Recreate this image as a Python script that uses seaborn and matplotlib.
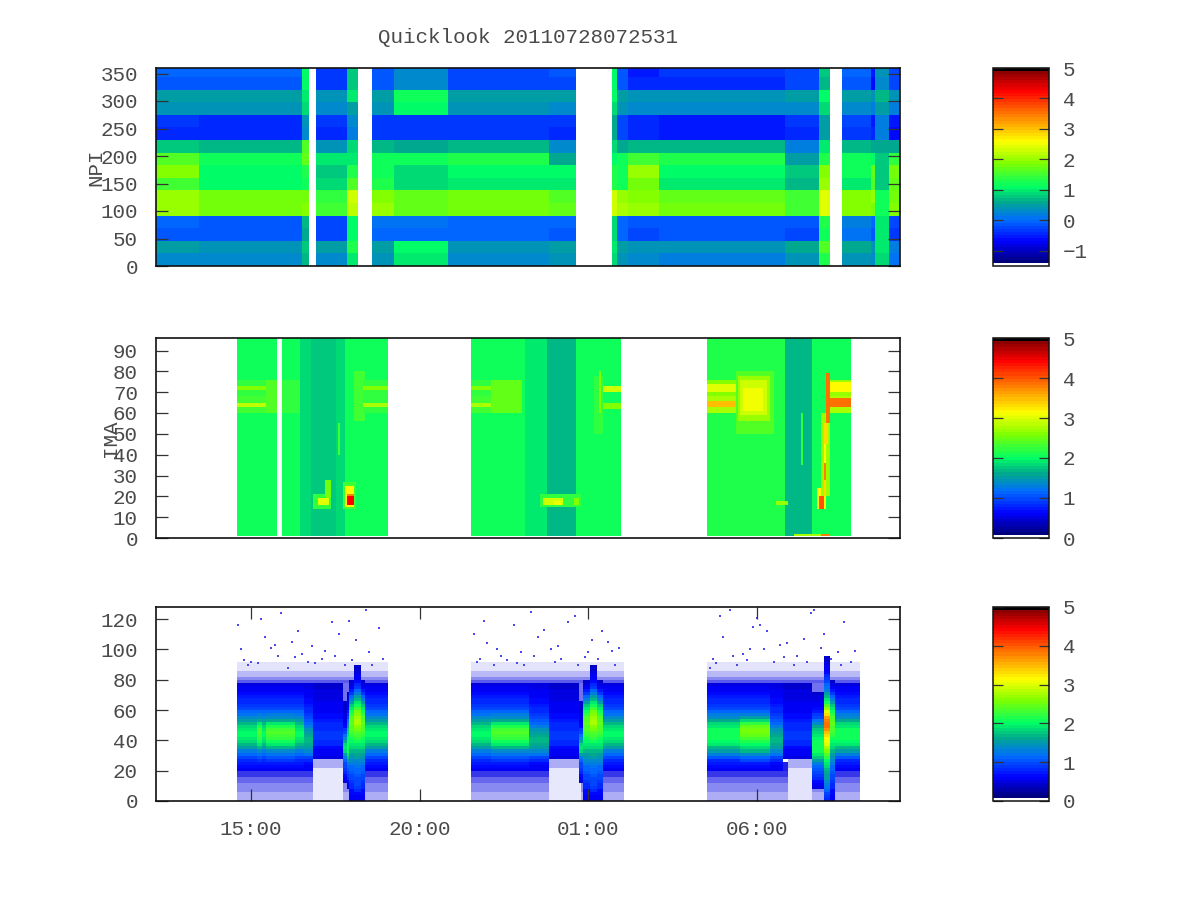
import matplotlib
matplotlib.use("Agg")
import matplotlib.pyplot as plt
import numpy as np
import seaborn as sns
from matplotlib.colors import LinearSegmentedColormap

N = np.nan

# -----------------------------
# Time grid (hours since 00:00 on the first day)
# -----------------------------
T_START = 12.18
T_END = 34.26
COLS_PER_HOUR = 15
time_ticks = [15, 20, 25, 30]
time_labels = ["15:00", "20:00", "01:00", "06:00"]

# -----------------------------
# NPI: energy of 16 sector rows over time segments
# -----------------------------
npi_edges = [12.18, 13.43, 16.51, 16.72, 16.93, 17.85, 18.18, 18.56, 19.24, 20.82, 23.87,
             24.67, 25.74, 25.85, 26.20, 27.14, 30.85, 31.82, 32.15, 32.54, 33.37, 33.52, 33.90, 34.26]
npi_row_height = 22.9
npi_rows = [
    [.3, .25, .7, N, .3, 1.0, N, .4, 1.0, .25, .4, N, .35, .25, .2, .4, 1.3, N, .4, .3, .9, .1],
    [.45, .4, .8, N, .45, 1.3, N, .5, 1.05, .4, .5, N, .45, .4, .35, .6, 1.6, N, .6, .4, 1.0, .15],
    [-.1, -.15, .6, N, -.2, 1.1, N, 0, 0, -.05, -.1, N, -.05, -.2, -.15, -.2, 1.2, N, .1, -.1, .95, -.3],
    [-.05, -.1, .7, N, -.25, 1.1, N, .05, .1, 0, -.05, N, 0, -.15, -.1, -.1, 1.3, N, .15, -.05, 1.0, -.25],
    [2.0, 1.8, 1.9, N, 1.45, 2.2, N, 2.0, 1.7, 1.8, 1.65, N, 2.1, 2.0, 1.75, 1.5, 2.4, N, 1.9, 1.8, 1.2, 1.9],
    [2.0, 1.75, 1.85, N, 1.4, 2.3, N, 1.9, 1.65, 1.75, 1.6, N, 2.05, 1.95, 1.7, 1.45, 2.4, N, 1.95, 2.0, 1.15, 1.85],
    [1.5, 1.1, 1.2, N, .85, 1.6, N, 1.3, .9, 1.0, .95, N, 1.2, 1.8, .95, .7, 2.0, N, 1.0, 1.6, .8, 1.7],
    [1.9, 1.1, 1.25, N, .8, 1.3, N, 1.2, .85, 1.05, 1.05, N, 1.2, 2.0, 1.05, .75, 1.9, N, 1.2, 1.7, .8, 1.8],
    [1.6, 1.2, 1.7, N, 1.0, 1.0, N, 1.2, 1.2, 1.25, .6, N, 1.2, 1.45, 1.3, .5, 1.3, N, 1.2, 1.1, .8, 1.4],
    [.8, .65, 1.6, N, .35, .9, N, .7, .55, .7, .3, N, .6, .7, .65, .2, 1.0, N, .7, .6, .6, .6],
    [-.45, -.45, .3, N, -.4, .2, N, -.35, -.3, -.35, -.4, N, -.25, -.45, -.55, -.4, .5, N, -.3, -.45, .2, -.6],
    [-.35, -.4, .35, N, -.3, .25, N, -.3, -.3, -.3, -.3, N, -.2, -.4, -.5, -.35, .5, N, -.2, -.55, .2, -.5],
    [.4, .4, .9, N, .3, .5, N, .35, 1.1, .35, .3, N, .35, .25, .25, .3, .9, N, .3, .2, .5, .2],
    [.5, .5, 1.0, N, .4, 1.0, N, .5, 1.15, .5, .45, N, .5, .35, .4, .45, 1.1, N, .5, .35, .7, .35],
    [-.1, -.1, 1.1, N, -.35, .8, N, -.1, .25, -.25, -.2, N, -.1, -.45, -.4, -.25, .7, N, -.1, -.6, .3, -.2],
    [-.05, -.05, 1.1, N, -.3, .8, N, -.1, .25, -.2, -.15, N, -.1, -.5, -.35, -.2, .8, N, -.05, -.55, .35, -.25],
]
# thin bright sliver right after the long data gap
npi_onset = [.9, 1.0, .9, .9, 2.3, 2.3, 1.3, 1.3, 1.1, .9, .6, .6, .9, 1.1, 1.1, 1.1]
npi_ticks = [0, 50, 100, 150, 200, 250, 300, 350]

# -----------------------------
# IMA: background level per segment plus local features
# -----------------------------
ima_edges = [12.18, 14.55, 15.80, 15.89, 16.45, 16.80, 17.50, 17.79, 19.04, 21.53, 23.10, 23.81, 24.67, 25.95,
             28.53, 30.85, 31.68, 32.77, 34.26]
ima_levels = [N, 2.08, N, 2.05, 1.85, 1.72, 1.8, 2.05, N, 2.05, 1.95, 1.7, 2.1, N, 2.15, 1.65, 2.1, N]
ima_ticks = [0, 10, 20, 30, 40, 50, 60, 70, 80, 90]

ima_t0 = [14.55, 14.55, 14.55, 14.55, 15.45, 15.89, 18.05, 18.3, 18.3, 18.3, 18.3,
          16.85, 16.96, 17.2, 17.55, 17.7, 17.78, 17.82, 17.85,
          21.53, 21.53, 21.53, 21.53, 22.1, 23.55, 23.66, 23.95, 24.55, 25.15, 25.3, 25.45, 25.45,
          28.53, 28.53, 28.53, 28.53, 29.4, 29.45, 29.5, 29.6, 30.55, 31.3,
          31.8, 31.85, 31.93, 31.95, 31.97, 31.98, 32.0, 32.03, 32.07,
          32.17, 32.17, 32.17, 32.17, 31.08, 31.9]
ima_t1 = [15.6, 15.6, 15.6, 15.6, 15.75, 16.45, 18.35, 19.04, 19.04, 19.04, 19.04,
          17.35, 17.28, 17.4, 17.62, 18.1, 18.05, 18.05, 18.03,
          22.15, 22.15, 22.15, 22.15, 23.07, 24.75, 24.26, 24.2, 24.7, 25.45, 25.4, 25.95, 25.95,
          29.45, 29.45, 29.45, 29.45, 30.5, 30.35, 30.3, 30.2, 30.9, 31.38,
          32.05, 32.0, 32.2, 32.02, 32.03, 32.08, 32.12, 32.17, 32.17,
          32.77, 32.77, 32.77, 32.77, 32.2, 32.2]
ima_lo = [68, 60, 71, 63, 60, 60, 56, 68, 60, 71, 63,
          14, 16, 19, 40, 14, 15, 16, 16,
          68, 60, 71, 63, 60, 15, 16, 16, 16, 50, 60, 70, 62,
          68, 60, 70, 63, 50, 56, 59, 61, 16, 35,
          14, 14, 20, 20, 28, 36, 45, 55, 65,
          60, 63, 68, 70, 1, 1]
ima_hi = [76, 68, 73, 65, 76, 76, 80, 76, 68, 73, 65,
          21, 19, 28, 55, 27, 25, 21, 20,
          76, 68, 73, 65, 76, 21, 19, 18, 19, 78, 80, 73, 65,
          76, 68, 74, 66, 80, 78, 76, 72, 18, 60,
          24, 20, 60, 30, 36, 45, 55, 65, 79,
          68, 67, 76, 75, 2, 2]
ima_level = [2.25, 2.3, 2.65, 2.85, 2.4, 2.25, 2.3, 2.2, 2.25, 2.6, 2.75,
             2.2, 3.0, 2.5, 2.3, 2.3, 3.2, 3.8, 4.4,
             2.25, 2.3, 2.6, 2.75, 2.45, 2.2, 2.9, 3.1, 2.6, 2.25, 2.6, 2.9, 2.6,
             2.6, 2.8, 3.0, 3.5, 2.4, 2.7, 2.95, 3.1, 2.7, 2.25,
             3.2, 4.0, 2.7, 3.3, 3.8, 3.2, 3.3, 3.9, 3.9,
             2.8, 3.9, 2.7, 3.2, 2.8, 3.8]

# -----------------------------
# ELS: vertical spectra (one value per 2 channels) and when each applies
# -----------------------------
els_quiet = [N] * 10 + [.6, .65, .75, .85, 1.0, 1.15, 1.3, 1.5, 1.7, 1.85, 1.95, 2.0, 2.0, 1.95, 1.85, 1.7, 1.5,
                        1.35, 1.2, 1.1, 1.0, .9, .85, .8, .72, .66, .6, .56, .52]
els_warm = [N] * 10 + [.6, .65, .75, .9, 1.05, 1.2, 1.4, 1.7, 1.95, 2.1, 2.2, 2.3, 2.35, 2.3, 2.15, 1.9, 1.6,
                       1.4, 1.25, 1.1, 1.0, .9, .85, .8, .72, .66, .6, .56, .52]
els_fade = [N] * 10 + [.58, .62, .7, .8, 1.0, 1.2, 1.4, 1.55, 1.6, 1.65, 1.65, 1.6, 1.55, 1.45, 1.3, 1.15, 1.05,
                       1.0, .9, .85, .8, .75, .7, .66, .62, .58, .55, .52, .5]
els_void = [N] * 14 + [.5, .55, .6, .7, .8, .85, .9, .9, .9, .85, .8, .8, .75, .7, .65, .62, .6, .58, .55, .52,
                       .5, .5, .48, .46, .45]
els_rise = [N] * 6 + [.5, .55, .65, .8, .9, 1.0, 1.0, 1.1, 1.3, 1.5, 1.8, 1.9, 1.8, 1.6, 1.4, 1.2, 1.0, .9, .7,
                      .55, .5, .5, .48, .46, .45, .45, .45]
els_lift = [N] * 4 + [.5, .6, .7, .8, .9, 1.0, 1.05, 1.15, 1.3, 1.5, 1.75, 1.95, 2.05, 2.1, 2.1, 2.05, 2.0, 1.95,
                      1.85, 1.75, 1.6, 1.4, 1.2, 1.0, .9, .75, .65, .6, .55, .5, .48, .46]
els_shoulder = [.55, .6, .65, .7, .8, .85, .9, .95, 1.0, 1.05, 1.1, 1.15, 1.25, 1.35, 1.45, 1.55, 1.65, 1.8, 1.9,
                2.0, 2.1, 2.2, 2.3, 2.35, 2.4, 2.45, 2.4, 2.35, 2.25, 2.1, 1.95, 1.75, 1.55, 1.3, 1.1, .9, .75,
                .62, .52, .45]
els_plume = [.55, .6, .7, .8, .9, .95, 1.0, 1.0, 1.05, 1.1, 1.15, 1.2, 1.3, 1.4, 1.5, 1.6, 1.7, 1.85, 1.95, 2.1,
             2.2, 2.3, 2.4, 2.5, 2.6, 2.75, 2.75, 2.7, 2.6, 2.5, 2.3, 2.1, 1.9, 1.7, 1.5, 1.3, 1.1, .9, .8, .7,
             .62, .55, .5, .45, .42]
els_flare = [.8, .9, 1.0, 1.1, 1.2, 1.3, 1.4, 1.5, 1.5, 1.6, 1.7, 1.8, 1.9, 2.0, 2.2, 2.4, 2.6, 2.8, 3.0, 3.1,
             3.2, 3.3, 3.5, 3.7, 3.9, 3.9, 3.8, 3.6, 3.3, 3.0, 2.7, 2.4, 2.1, 1.9, 1.7, 1.5, 1.3, 1.2, 1.1, 1.0,
             .9, .8, .7, .6, .55, .5, .45, .42]
els_broad = [N] * 10 + [.6, .65, .75, .85, 1.05, 1.3, 1.5, 1.7, 1.9, 2.0, 2.05, 2.1, 2.1, 2.05, 1.95, 1.8, 1.6,
                        1.4, 1.25, 1.1, 1.0, .9, .85, .8, .72, .66, .6, .56, .52]
els_warm3 = [N] * 10 + [.6, .65, .75, .95, 1.15, 1.4, 1.65, 1.85, 2.0, 2.15, 2.3, 2.45, 2.55, 2.55, 2.45, 2.2, 1.8,
                        1.5, 1.3, 1.1, 1.0, .9, .85, .8, .72, .66, .6, .56, .52]
els_none = []
els_spectra = {"quiet": els_quiet, "warm": els_warm, "fade": els_fade, "void": els_void, "rise": els_rise,
               "lift": els_lift, "shoulder": els_shoulder, "plume": els_plume, "flare": els_flare,
               "broad": els_broad, "warm3": els_warm3, "none": els_none}

els_edges = [12.18, 14.55, 15.21, 15.33, 15.45, 15.62, 16.34, 16.57, 16.87, 17.70, 17.82, 17.94, 18.08, 18.23, 18.40,
             19.07, 21.53, 22.09, 22.18, 23.22, 23.49, 23.87, 24.47, 24.70, 24.85, 25.05, 25.22, 25.42, 26.07,
             28.53, 29.51, 30.40, 30.76, 31.00, 31.65, 31.95, 32.18, 32.33, 33.07, 34.26]
els_segments = ["none", "quiet", "warm", "quiet", "warm", "warm", "quiet", "fade", "void", "rise", "lift", "shoulder",
                "plume", "shoulder", "quiet", "none",
                "quiet", "warm", "warm", "fade", "fade", "void", "void", "rise", "shoulder", "plume", "shoulder",
                "quiet", "none",
                "broad", "warm3", "fade", "void", "void", "lift", "flare", "shoulder", "broad", "none"]
els_ticks = [0, 20, 40, 60, 80, 100, 120]

# how thickly the sparse channels around the spectra are speckled
pass_start = [14.55, 21.53, 28.53]
pass_end = [19.07, 26.07, 33.07]
sparse_lo = [0, 6, 12, 16, 20, 76, 78, 80, 82, 86]
sparse_hi = [6, 12, 16, 20, 26, 78, 80, 82, 86, 92]
sparse_frac = [.35, .5, .65, .85, .95, .85, .7, .5, .3, .12]

clear_t0 = [16.87, 16.87, 23.87, 23.87, 30.9, 30.9, 17.70, 24.70, 31.65]
clear_t1 = [17.70, 17.70, 24.75, 24.75, 31.65, 31.65, 18.10, 24.95, 32.0]
clear_lo = [0, 22, 0, 22, 0, 22, 60, 60, 60]
clear_hi = [22, 28, 22, 28, 22, 28, 78, 78, 78]
clear_frac = [.1, .35, .1, .35, .12, .35, .6, .6, .6]

dot_time = [14.7, 15.0, 15.4, 15.8, 16.1, 16.4, 16.8, 17.1, 17.4, 17.8, 18.1, 18.5, 18.8, 14.6, 15.3, 16.2, 17.2,
            18.4, 14.9, 15.9, 16.7, 17.6, 18.9, 15.6, 16.5, 17.9, 14.8, 15.2, 15.7, 16.3, 16.9, 17.5, 18.0, 18.6,
            21.7, 22.0, 22.4, 22.8, 23.1, 23.5, 23.9, 24.2, 24.6, 25.0, 25.4, 25.8, 21.9, 22.6, 23.3, 24.1, 25.1,
            25.9, 22.2, 23.7, 24.9, 21.6, 23.0, 24.4, 25.6, 21.8, 22.3, 22.9, 23.4, 24.0, 24.7, 25.3, 25.7,
            28.7, 29.0, 29.4, 29.8, 30.1, 30.5, 30.9, 31.2, 31.6, 32.0, 32.4, 32.8, 28.9, 29.6, 30.3, 31.1, 31.9,
            32.6, 29.2, 30.7, 32.2, 28.6, 30.0, 31.4, 32.9, 29.9, 31.7, 28.8, 29.3, 29.7, 30.2, 30.8, 31.5, 32.5]
dot_chan = [100, 92, 108, 96, 88, 112, 102, 94, 118, 90, 106, 98, 114, 116, 120, 105, 99, 126, 90, 124, 92, 110,
            94, 101, 97, 119, 93, 91, 103, 95, 91, 96, 93, 90,
            92, 104, 96, 116, 90, 108, 100, 94, 122, 98, 112, 90, 119, 93, 125, 102, 106, 101, 90, 113, 95, 110,
            98, 118, 105, 94, 100, 91, 96, 92, 90, 94, 99,
            94, 108, 90, 100, 116, 92, 104, 96, 124, 110, 98, 92, 122, 97, 112, 90, 101, 118, 126, 103, 94, 88,
            121, 107, 99, 115, 126, 91, 96, 93, 100, 95, 92, 90]

# colour scales of the three panels
npi_range = (-1.5, 5)
ima_range = (0, 5)
els_range = (0, 5)
npi_cbar_ticks = [-1, 0, 1, 2, 3, 4, 5]
other_cbar_ticks = [0, 1, 2, 3, 4, 5]

TEXT = "#4a4a4a"
plt.rcParams["font.family"] = ["Liberation Mono", "DejaVu Sans Mono"]
plt.rcParams["font.size"] = 15

jet_like = LinearSegmentedColormap.from_list("quicklook", [
    (0.0, "#ffffff"), (0.012, "#ffffff"), (0.012, "#00007a"), (0.12, "#0000ff"), (0.23, "#006eff"),
    (0.32, "#00aa8c"), (0.40, "#00ff64"), (0.52, "#80ff00"), (0.63, "#ffff00"), (0.74, "#ff9600"),
    (0.89, "#ff0000"), (0.985, "#8c0000"), (0.99, "#000000"), (1.0, "#000000")], N=64)
speckle = LinearSegmentedColormap.from_list("speckle", ["#ffffff", "#1414e6"])


# -----------------------------
# Helpers
# -----------------------------
def col_of(hour):
    return int(round((hour - T_START) * COLS_PER_HOUR))


def segment_widths(edges):
    cols = [col_of(e) for e in edges]
    return np.diff(cols)


def paint(grid, t0, t1, lo, hi, level, rows_per_unit=1.0):
    for a, b, c, d, v in zip(t0, t1, lo, hi, level):
        grid[int(c * rows_per_unit):max(int(d * rows_per_unit), int(c * rows_per_unit) + 1),
             col_of(a):max(col_of(b), col_of(a) + 1)] = v


def build_els():
    table = np.full((64, len(els_segments)), np.nan)
    for j, name in enumerate(els_segments):
        spec = els_spectra[name]
        table[:len(spec), j] = spec
    return np.repeat(table, segment_widths(els_edges), axis=1)


def build_sparse(n_cols):
    grid = np.full((64, n_cols), np.nan)
    for a, b in zip(pass_start, pass_end):
        paint(grid, [a] * len(sparse_lo), [b] * len(sparse_lo), sparse_lo, sparse_hi, sparse_frac, 0.5)
    paint(grid, clear_t0, clear_t1, clear_lo, clear_hi, clear_frac, 0.5)
    return grid


def style_panel(ax, ticks, tick_scale, top_value, name, label_x):
    ax.set_ylim(0, top_value * tick_scale)
    ax.set_yticks([t * tick_scale for t in ticks])
    ax.set_yticklabels([str(t) for t in ticks], rotation=0)
    ax.set_xticks([])
    ax.tick_params(axis="y", direction="in", left=True, right=True, length=8.6, width=0.9,
                   color="#333333", labelcolor=TEXT, pad=13)
    ax.set_ylabel(name, color=TEXT)
    ax.yaxis.set_label_coords(label_x, 0.5)
    ax.set_xlabel("")
    for s in ax.spines.values():
        s.set_visible(True)
        s.set_linewidth(1.2)
        s.set_color("#111111")


def style_cbar(ax, ticks):
    cbar = ax.collections[-1].colorbar
    cbar.set_ticks(ticks)
    cbar.set_ticklabels([str(t).replace("-", "\u2212") for t in ticks])
    cbar.outline.set_linewidth(1.1)
    cbar.outline.set_edgecolor("#111111")
    cbar.ax.tick_params(direction="in", left=True, right=True, length=7, width=0.9,
                        color="#333333", labelcolor=TEXT, pad=10)


def panel_axes(fig, top, bottom, left=156, right=900):
    return fig.add_axes([left / 1200, 1 - bottom / 900, (right - left) / 1200, (bottom - top) / 900])


# -----------------------------
# Figure
# -----------------------------
def main():
    fig = plt.figure(figsize=(12, 9), dpi=100)

    # NPI
    ax1 = panel_axes(fig, 68, 266)
    cax1 = panel_axes(fig, 68, 266, 993, 1049)
    npi_table = np.insert(np.array(npi_rows), 12, npi_onset, axis=1)
    npi_grid = np.repeat(npi_table, segment_widths(npi_edges), axis=1)
    sns.heatmap(npi_grid, ax=ax1, cbar_ax=cax1, cmap=jet_like, vmin=npi_range[0], vmax=npi_range[1],
                xticklabels=False, yticklabels=False)
    style_panel(ax1, npi_ticks, 1 / npi_row_height, 360, "NPI", -0.068)
    style_cbar(ax1, npi_cbar_ticks)
    ax1.set_title("Quicklook 20110728072531", color=TEXT, pad=18, fontsize=15)

    # IMA
    ax2 = panel_axes(fig, 338, 538)
    cax2 = panel_axes(fig, 338, 538, 993, 1049)
    ima_grid = np.repeat(np.tile(np.array(ima_levels), (96, 1)), segment_widths(ima_edges), axis=1)
    ima_grid[0] = np.nan
    paint(ima_grid, ima_t0, ima_t1, ima_lo, ima_hi, ima_level)
    sns.heatmap(ima_grid, ax=ax2, cbar_ax=cax2, cmap=jet_like, vmin=ima_range[0], vmax=ima_range[1],
                xticklabels=False, yticklabels=False)
    style_panel(ax2, ima_ticks, 1.0, 96, "IMA", -0.048)
    style_cbar(ax2, other_cbar_ticks)

    # ELS
    ax3 = panel_axes(fig, 607, 801)
    cax3 = panel_axes(fig, 607, 801, 993, 1049)
    els_grid = build_els()
    sns.heatmap(build_sparse(els_grid.shape[1]), ax=ax3, cbar=False, cmap=speckle, vmin=0, vmax=1,
                xticklabels=False, yticklabels=False)
    sns.heatmap(els_grid, ax=ax3, cbar_ax=cax3, cmap=jet_like, vmin=els_range[0], vmax=els_range[1],
                xticklabels=False, yticklabels=False)
    style_cbar(ax3, other_cbar_ticks)
    sns.scatterplot(x=[(t - T_START) * COLS_PER_HOUR for t in dot_time], y=[c / 2 for c in dot_chan], ax=ax3,
                    s=3, color="#4a4aee", marker="s", linewidth=0, legend=False)
    ax3.set_xlim(0, els_grid.shape[1])
    style_panel(ax3, els_ticks, 0.5, 128, "ELS", -0.068)
    ax3.set_xticks([(t - T_START) * COLS_PER_HOUR for t in time_ticks])
    ax3.set_xticklabels(time_labels, rotation=0)
    ax3.tick_params(axis="x", direction="in", bottom=True, top=True, length=8.6, width=0.9,
                    color="#333333", labelcolor=TEXT, pad=14)

    fig.savefig("out.png", dpi=100)


main()
